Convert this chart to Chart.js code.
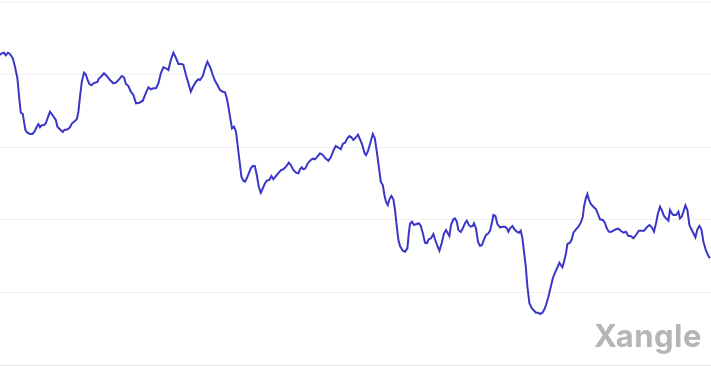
<html>
<head>
	<script src="https://cdn.jsdelivr.net/npm/chart.js@4.4.0/dist/chart.umd.min.js"></script>
	<style>
		body { margin: 0; background: #fff; }
		#wrap { position: relative; width: 711px; height: 366px; }
		#mark {
			position: absolute; right: 9px; top: 320px;
			font-family: Inter, "Noto Sans", sans-serif; font-weight: 700;
			font-size: 31px; line-height: 31px; color: #b5b5b5; letter-spacing: 0.5px;
		}
	</style>
</head>
<body>
	<div id="wrap">
		<canvas id="myChart"></canvas>
		<div id="mark">Xangle</div>
	</div>
</body>
<script>

// time in days since start of the window
const days = [0, 0.9, 2, 2.9, 4, 5, 6.4, 7.5, 8.7, 9.7, 10.4, 11.4, 12, 12.7, 13.7, 15, 16.2, 17.2, 18.4, 19.2,
  20, 20.9, 22, 22.9, 23.9, 25, 25.9, 27, 27.9, 28.7, 29.7, 31.4, 32.2, 33.9, 35, 36, 37, 38.4, 39.2, 40,
  40.9, 42, 42.9, 43.7, 44.7, 45.7, 46.7, 47.5, 48.7, 49.5, 50.4, 52, 53.4, 55, 56.7, 58, 59.5, 60.9, 62, 63,
  64.2, 65.4, 66.7, 68, 69.7, 71.4, 73, 74.2, 75.4, 76.7, 78, 79.2, 80.4, 81.7, 83, 84.2, 85.4, 86.7, 87.7, 89.2,
  90.9, 91.7, 93, 94.2, 95.4, 96.7, 98, 99.2, 100, 101.4, 102.5, 103.7, 105, 106.4, 107.5, 108.7, 110, 111.4, 112.5, 113.4,
  114.2, 115, 116, 117, 118, 118.9, 119.7, 120.7, 121.7, 122.5, 123.4, 124.4, 125.4, 126.4, 127.4, 128.4, 129.4, 130.4, 131.4, 132.5,
  133.4, 134.7, 135.7, 136.7, 138, 139.4, 140.5, 141.7, 143, 144.4, 145.4, 146.7, 148, 149.2, 150, 150.9, 151.7, 152.7, 153.7, 155,
  156.4, 157.5, 158.7, 160, 161.4, 162.7, 164.2, 165.4, 166.7, 167.9, 169, 170.4, 171.4, 172.5, 173.7, 174.7, 175.7, 176.7, 177.9, 179,
  180, 181, 182.2, 183, 183.9, 185, 186.4, 187.4, 188.4, 189.4, 190.4, 191.4, 192.2, 193, 193.9, 194.7, 195.7, 196.7, 197.5, 198.4,
  199.2, 200, 201.4, 202.5, 203.7, 204.4, 205, 206, 207, 208.4, 209.4, 210.4, 211.4, 212.5, 213.4, 214.4, 215.5, 216.7, 217.5, 218.7,
  219.7, 220.9, 222, 223, 223.9, 224.7, 225.5, 226.7, 227.5, 228.4, 229.2, 230.4, 231.4, 232.5, 233.4, 234.4, 235.4, 236.4, 237, 238,
  239, 240, 241, 242, 243, 244.2, 245, 245.9, 246.7, 247.7, 248.7, 250, 251.4, 252.5, 253.4, 254.2, 255, 256.2, 257.2, 258.4,
  259.5, 260.4, 261.2, 262, 262.9, 263.7, 264.7, 265.9, 266.7, 268, 269.2, 270, 271.2, 272.2, 273, 274.2, 275.4, 276.4, 277.5, 278.7,
  279.7, 280.4, 281.2, 282, 283, 283.7, 285, 285.9, 286.7, 288, 289.2, 290.4, 291.4, 292, 292.9, 293.7, 294.4, 295.4, 296.7, 298,
  299, 300, 301.4, 302.4, 303.4, 304.4, 305.4, 306.7, 308, 309.2, 310.4, 311.7, 313, 314.2, 315.4, 316.7, 318, 319.4, 320.7, 322,
  323.4, 324.7, 325.9, 327, 328, 329, 330, 331, 332, 333, 334.2, 335, 335.9, 336.7, 338, 339.2, 340, 340.9, 341.7, 342.7,
  343.7, 344.7, 345.7, 346.7, 347.7, 348.7, 349.7, 350.7, 351.7, 353, 354.2, 355];

const prices = [310, 311.7, 312.3, 309.7, 312.3, 311, 306.7, 298.3, 286.7, 265, 252.3, 251, 243.3, 235, 232.3, 231, 231, 233.3, 238.3, 241,
  237.7, 239.7, 240, 241.7, 247.3, 253.3, 251, 247.7, 245, 238.3, 236.3, 233, 235, 235.7, 237.7, 241.7, 243.3, 245.7, 253.3, 268.3,
  283.3, 292.3, 290.7, 285.7, 281, 279.7, 281.7, 282.3, 283, 286.7, 288, 291.7, 289, 285, 281.7, 282.3, 285.7, 289, 287.7, 281,
  279, 273.3, 270, 261.7, 262.3, 264.3, 272.3, 277.7, 275.7, 276.7, 276.7, 281.7, 291.7, 297.7, 296.7, 295, 305, 312.3, 308.3, 301,
  301, 300, 290, 281.7, 273.3, 279, 283.3, 285.7, 285, 289, 296.7, 303.3, 298.3, 290, 284.3, 280, 275, 273.3, 272.7, 266.7,
  258.3, 248.3, 236.7, 238.3, 233.3, 218.3, 205, 188.3, 184.3, 183.3, 186.7, 191.7, 196.7, 199, 199, 190, 178.3, 172.3, 176.7, 181.7,
  184.3, 185, 189, 185.7, 189, 192.3, 195, 195.7, 198.3, 202.3, 200, 195, 192.3, 191.7, 195.7, 197.7, 195.7, 196.7, 201, 204.3,
  206.3, 205.7, 208.3, 211.7, 210, 206.7, 204.3, 207.7, 214.3, 219, 217.7, 215.7, 221, 222.3, 226.7, 229, 227.7, 225, 227.7, 230.3,
  225.7, 221, 212.3, 210, 213.3, 221, 231, 226.7, 213.3, 198.3, 183.3, 180, 170, 163.3, 160, 165.7, 169, 165.7, 155, 138.3,
  125, 119, 114.3, 113.3, 116.7, 131.7, 141, 143.3, 140, 141, 141.7, 139, 131.7, 122.3, 121.7, 125.7, 126.7, 131, 125.7, 119,
  114.3, 122.3, 131.7, 135, 131.7, 129, 140, 145.7, 146.7, 143.3, 135, 133, 136.7, 141.7, 144.3, 140, 138.3, 139, 141.7, 136.7,
  123.3, 119, 120, 125.7, 130, 131.7, 134.3, 141.7, 150, 149, 141, 137.7, 138.3, 138.3, 136.7, 133.3, 136.7, 139, 135.7, 133.3,
  132.3, 134.3, 126.7, 113.3, 98.3, 78.3, 61.7, 56.7, 55, 52.3, 52.3, 51, 52.3, 55.7, 60, 68.3, 78.3, 86.7, 92.3, 97.7,
  102.3, 100, 97.7, 103.3, 111.7, 121, 122.3, 125.7, 132.3, 135.7, 138.3, 142.3, 148.3, 158.3, 166.7, 171, 165.7, 161, 158.3, 155.7,
  151, 145.7, 145, 142.3, 136.7, 133.3, 133, 134.3, 135.7, 136.3, 134.3, 132.3, 133.3, 129, 129, 126.7, 130, 134.3, 134.3, 134.3,
  137.7, 140, 137.7, 133.3, 141.7, 151.7, 158.3, 154.3, 149, 146.7, 144.3, 155, 151.7, 150, 150, 153.3, 146.7, 148.3, 153.3, 159.7,
  155, 140, 135.7, 131.7, 127.7, 135.7, 139, 135.7, 123.3, 114.3, 109, 106.7];

// mid-month tick positions (days)
const monthTicks = [15, 44.6, 74.2, 103.8, 133.4, 163, 192.6, 222.2, 251.8, 281.4, 311, 340.6];

const data = {
  datasets: [
    {
      label: 'Price',
      data: days.map((d, i) => ({ x: d, y: prices[i] })),
      borderColor: "rgb(58, 54, 200)",
      borderWidth: 2,
      pointRadius: 0,
      tension: 0,
      fill: false
    }
  ]
};

const config = {
  type: 'line',
  data: data,
  options: {
    maintainAspectRatio: false,
    responsive: true,
    animation: false,
    layout: { padding: { top: 2, left: 0, right: 0, bottom: 0 } },
    plugins: {
      legend: { display: false },
      tooltip: { enabled: false }
    },
    scales: {
      x: {
        type: 'linear',
        min: 0,
        max: 355.5,
        afterBuildTicks: (scale) => { scale.ticks = monthTicks.map(v => ({ value: v })); },
        ticks: { display: false },
        grid: { drawOnChartArea: false, drawTicks: true, tickLength: 1, color: '#cfcfcf' },
        border: { display: true, color: '#e6e6e6' }
      },
      y: {
        min: 0,
        max: 363,
        ticks: { display: false, stepSize: 72.6 },
        grid: { drawTicks: false, color: '#f1f1f4' },
        border: { display: false }
      }
    }
  },
};
var ctx = document.getElementById('myChart');
var myChart = new Chart(ctx, config);

</script>
</html>
